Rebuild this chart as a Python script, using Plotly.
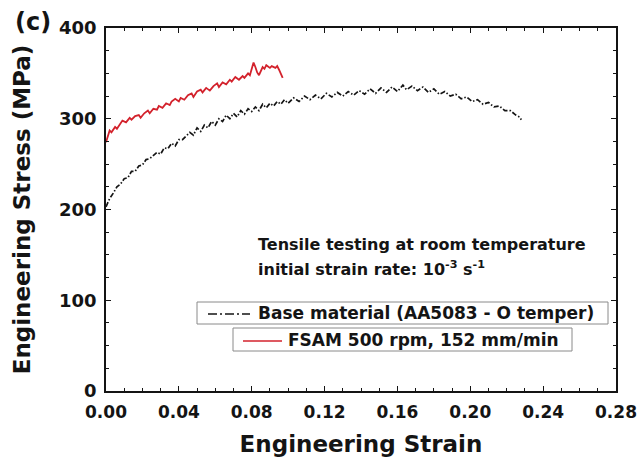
import plotly.graph_objects as go

# ---- data ----
base_strain = [0.000, 0.002, 0.004, 0.006, 0.008, 0.010, 0.012, 0.014, 0.016, 0.018,
               0.020, 0.022, 0.024, 0.026, 0.028, 0.030, 0.032, 0.034, 0.036, 0.038,
               0.040, 0.042, 0.044, 0.046, 0.048, 0.050, 0.052, 0.054, 0.056, 0.058,
               0.060, 0.062, 0.064, 0.066, 0.068, 0.070, 0.072, 0.074, 0.076, 0.078,
               0.080, 0.082, 0.084, 0.086, 0.088, 0.090, 0.092, 0.094, 0.096, 0.098,
               0.100, 0.103, 0.106, 0.109, 0.112, 0.115, 0.118, 0.121, 0.124, 0.127,
               0.130, 0.133, 0.136, 0.139, 0.142, 0.145, 0.148, 0.151, 0.154, 0.157,
               0.160, 0.163, 0.165, 0.168, 0.171, 0.174, 0.177, 0.180, 0.183, 0.186,
               0.189, 0.192, 0.195, 0.198, 0.201, 0.204, 0.207, 0.210, 0.213, 0.216,
               0.219, 0.222, 0.225, 0.227, 0.228]
base_stress = [203, 212, 218, 225, 228, 234, 235, 242, 242, 248,
               249, 255, 256, 260, 263, 261, 268, 267, 273, 270,
               277, 277, 281, 285, 282, 290, 286, 293, 290, 297,
               293, 300, 297, 304, 300, 306, 302, 309, 305, 311,
               308, 313, 309, 316, 312, 317, 314, 319, 316, 321,
               317, 323, 319, 325, 321, 326, 322, 328, 324, 329,
               325, 330, 326, 331, 327, 333, 328, 334, 329, 335,
               330, 337, 332, 336, 331, 335, 329, 333, 327, 330,
               325, 327, 322, 324, 319, 321, 316, 318, 313, 314,
               309, 309, 304, 302, 299]

fsam_strain = [0.000, 0.001, 0.002, 0.003, 0.005, 0.006, 0.008, 0.009, 0.011, 0.013,
               0.014, 0.016, 0.018, 0.019, 0.021, 0.023, 0.024, 0.026, 0.028, 0.029,
               0.031, 0.033, 0.035, 0.036, 0.038, 0.040, 0.041, 0.043, 0.045, 0.047,
               0.048, 0.050, 0.052, 0.053, 0.055, 0.057, 0.059, 0.061, 0.062, 0.064,
               0.066, 0.068, 0.069, 0.071, 0.073, 0.075, 0.076, 0.078, 0.079, 0.080,
               0.081, 0.082, 0.083, 0.084, 0.085, 0.086, 0.087, 0.088, 0.090, 0.091,
               0.093, 0.094, 0.095, 0.096, 0.097]
fsam_stress = [274, 281, 287, 285, 291, 289, 295, 298, 296, 301,
               299, 303, 304, 301, 306, 309, 306, 311, 310, 314,
               312, 317, 315, 319, 322, 319, 323, 321, 326, 328,
               324, 330, 332, 329, 334, 331, 336, 339, 335, 340,
               338, 343, 341, 346, 343, 347, 345, 350, 348, 355,
               362, 357, 351, 348, 353, 357, 355, 359, 356, 358,
               356, 358, 354, 350, 345]

series_names = ["Base material (AA5083 - O temper)", "FSAM 500 rpm, 152 mm/min"]
x_ticks = [0.00, 0.04, 0.08, 0.12, 0.16, 0.20, 0.24, 0.28]
y_ticks = [0, 100, 200, 300, 400]

FONT = "DejaVu Sans"
INK = "#141414"
RED = "#d3222c"

fig = go.Figure()
fig.add_trace(go.Scatter(x=base_strain, y=base_stress, mode="lines", name=series_names[0],
                         line=dict(color=INK, width=1.7, dash="5px,2px,1.5px,2px"),
                         showlegend=False))
fig.add_trace(go.Scatter(x=fsam_strain, y=fsam_stress, mode="lines", name=series_names[1],
                         line=dict(color=RED, width=1.8), showlegend=False))

axis_common = dict(
    showline=True, linecolor=INK, linewidth=1.5, mirror="ticks",
    ticks="inside", ticklen=5, tickwidth=1.3, tickcolor=INK,
    showgrid=False, zeroline=False,
)
fig.update_xaxes(
    **axis_common, range=[0, 0.28], tickvals=x_ticks,
    ticktext=[f"{v:.2f}" for v in x_ticks],
    minor=dict(dtick=0.01, ticks="inside", ticklen=3, tickcolor=INK, tickwidth=1),
    tickfont=dict(family=FONT, size=17, color=INK, weight="bold"),
    ticklabelstandoff=5, automargin=False,
    title=dict(text="<b>Engineering Strain</b>", font=dict(family=FONT, size=23, color=INK)),
)
fig.update_yaxes(
    **axis_common, range=[0, 400], tickvals=y_ticks,
    minor=dict(dtick=25, ticks="inside", ticklen=3, tickcolor=INK, tickwidth=1),
    tickfont=dict(family=FONT, size=18, color=INK, weight="bold"),
    ticklabelstandoff=4, automargin=True,
    title=dict(text="<b>Engineering Stress (MPa)</b>", font=dict(family=FONT, size=23, color=INK),
               standoff=22),
)

def dx(px):
    return (px - 106) / 510

def dy(py):
    return (391 - py) / 363

shapes = [
    # legend boxes
    dict(type="rect", xref="x domain", yref="y domain", x0=dx(197), x1=dx(608), y0=dy(324), y1=dy(302),
         line=dict(color="#8a8a8a", width=1)),
    dict(type="rect", xref="x domain", yref="y domain", x0=dx(233), x1=dx(572), y0=dy(351), y1=dy(328),
         line=dict(color="#8a8a8a", width=1)),
    # legend samples
    dict(type="line", xref="x domain", yref="y domain", x0=dx(208), x1=dx(250), y0=dy(314), y1=dy(314),
         line=dict(color=INK, width=1.6, dash="9px,3px,2px,3px")),
    dict(type="line", xref="x domain", yref="y domain", x0=dx(243), x1=dx(282), y0=dy(341), y1=dy(341),
         line=dict(color=RED, width=1.6)),
]

annotations = [
    dict(text="<b>(c)</b>", xref="x domain", yref="y domain", x=dx(33), y=dy(22),
         showarrow=False, font=dict(family=FONT, size=24, color=INK), xanchor="center", yanchor="middle"),
    dict(text="<b>Tensile testing at room temperature</b>", xref="x domain", yref="y domain",
         x=dx(256), y=dy(245), showarrow=False, xanchor="left", yanchor="middle",
         font=dict(family=FONT, size=16, color=INK)),
    dict(text="<b>initial strain rate: 10<sup>-3</sup> s<sup>-1</sup></b>", xref="x domain", yref="y domain",
         x=dx(256), y=dy(268), showarrow=False, xanchor="left", yanchor="middle",
         font=dict(family=FONT, size=16, color=INK)),
    dict(text=f"<b>{series_names[0]}</b>", xref="x domain", yref="y domain",
         x=dx(256), y=dy(313), showarrow=False, xanchor="left", yanchor="middle",
         font=dict(family=FONT, size=17, color=INK)),
    dict(text=f"<b>{series_names[1]}</b>", xref="x domain", yref="y domain",
         x=dx(286), y=dy(340), showarrow=False, xanchor="left", yanchor="middle",
         font=dict(family=FONT, size=17, color=INK)),
]

fig.update_layout(
    width=641, height=466,
    margin=dict(l=106, r=25, t=28, b=75),
    paper_bgcolor="white", plot_bgcolor="white",
    shapes=shapes, annotations=annotations,
    showlegend=False,
)

fig.write_html("out.html", config={"displayModeBar": False},
               post_script="document.body.style.margin='0';document.body.style.overflow='hidden';")
